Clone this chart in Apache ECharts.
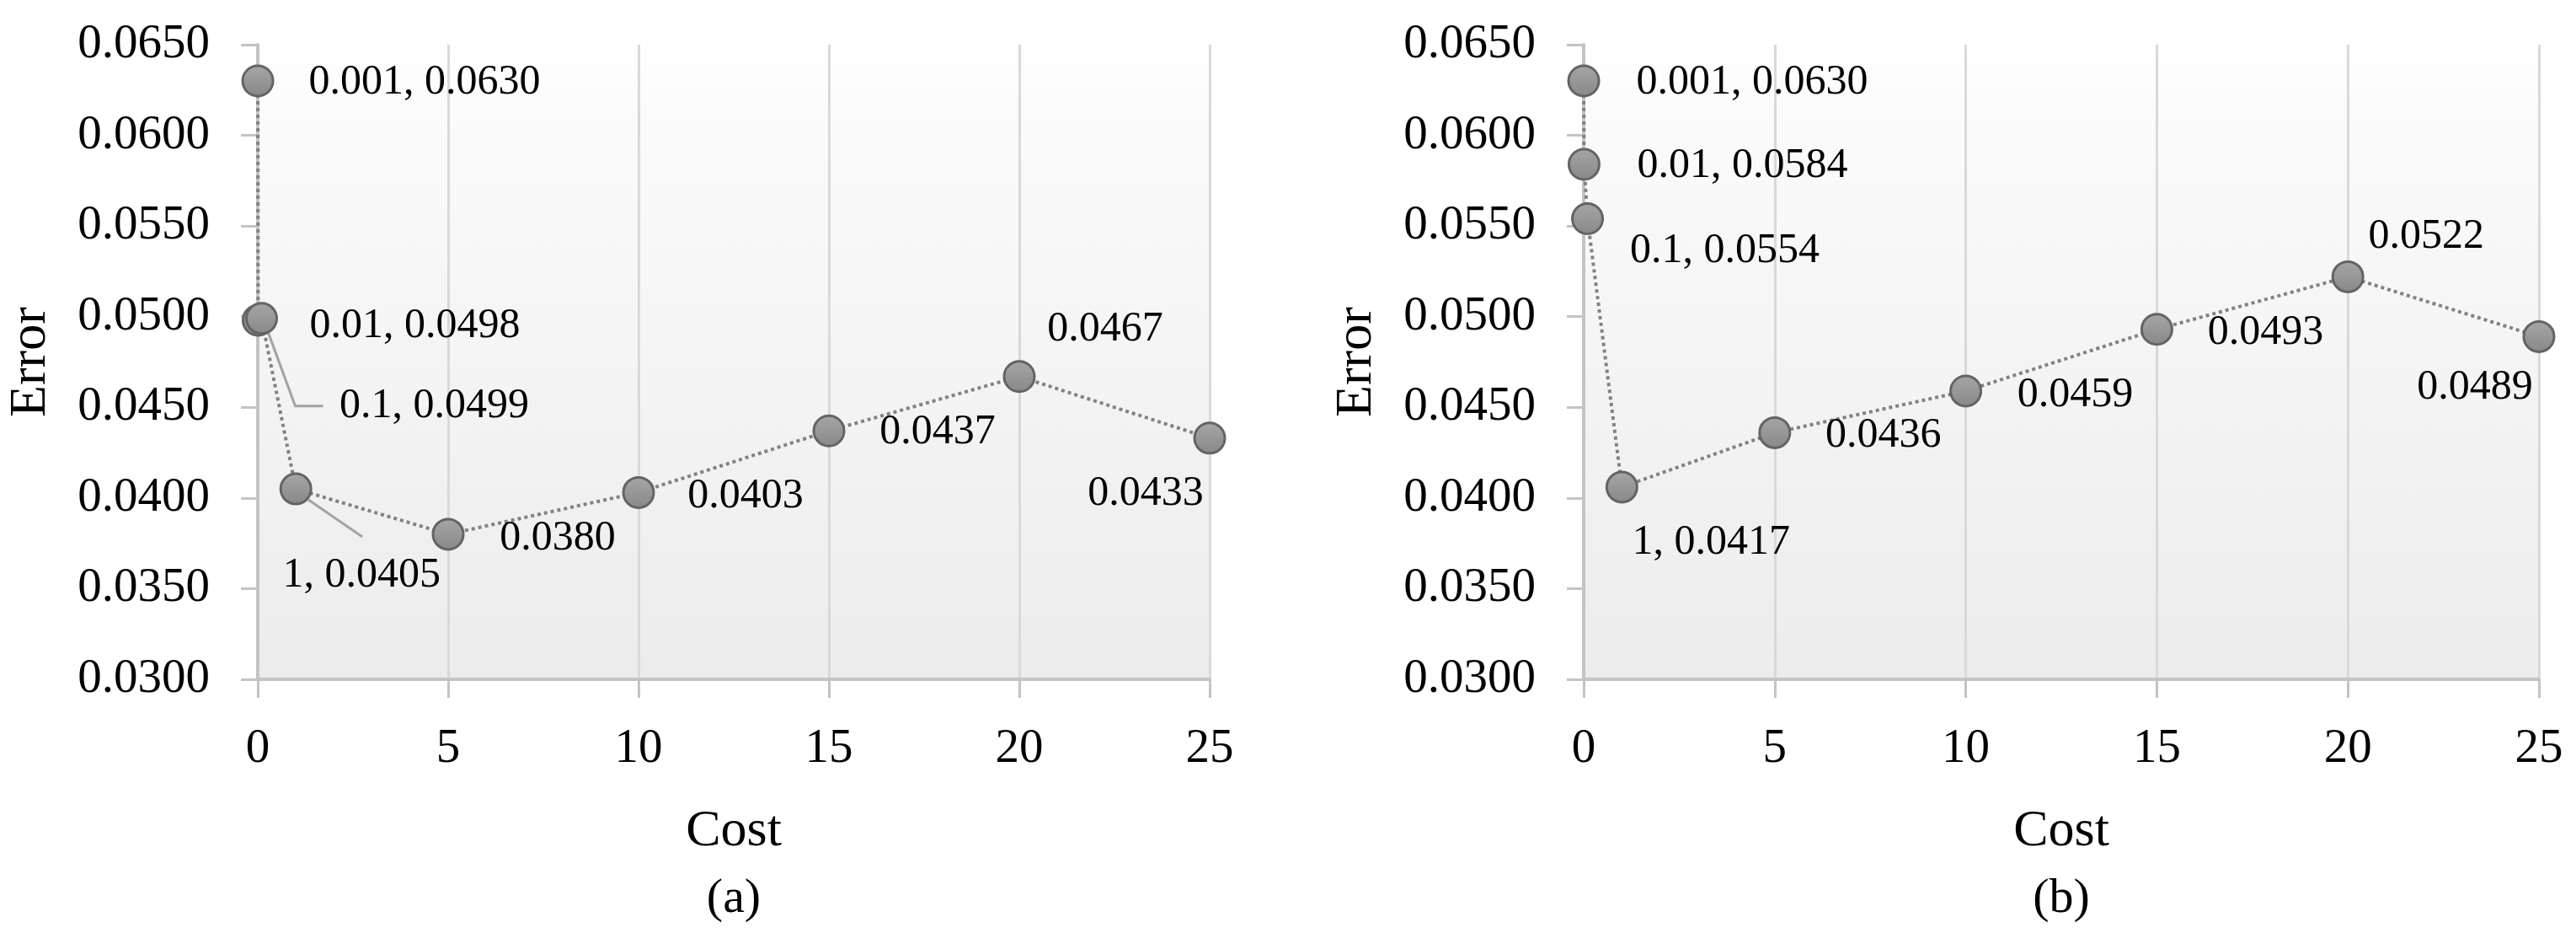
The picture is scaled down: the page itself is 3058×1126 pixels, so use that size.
<!DOCTYPE html>
<html>
<head>
<meta charset="utf-8">
<script src="https://cdn.jsdelivr.net/npm/echarts@6/dist/echarts.min.js"></script>
<style>
html,body{margin:0;padding:0;background:#fff;}
#main{width:3058px;height:1126px;}
</style>
</head>
<body>
<div id="main"></div>
<script>
// data
var costA=[0.001,0.01,0.1,1,5,10,15,20,25];
var errA=[0.0630,0.0498,0.0499,0.0405,0.0380,0.0403,0.0437,0.0467,0.0433];
var textA=['0.001, 0.0630','0.01, 0.0498','0.1, 0.0499','1, 0.0405','0.0380','0.0403','0.0437','0.0467','0.0433'];

var costB=[0.001,0.01,0.1,1,5,10,15,20,25];
var errB=[0.0630,0.0584,0.0554,0.0406,0.0436,0.0459,0.0493,0.0522,0.0489];
var textB=['0.001, 0.0630','0.01, 0.0584','0.1, 0.0554','1, 0.0417','0.0436','0.0459','0.0493','0.0522','0.0489'];

var xMin=0, xMax=25, xStep=5;
var yMin=0.0300, yMax=0.0650, yStep=0.0050;
var panelNames=['(a)','(b)'];

// label placement (label centre relative to point, px)
var offA=[[198,2],[186,7],[205,104],[78,103],[130,5],[127,4],[129,2],[102,-56],[-76,66]];
var offB=[[200,2],[188,2],[163,38],[106,66],[129,3],[130,5],[129,4],[93,-48],[-76,60]];
// callout lines of panel (a): point index -> polyline relative to the point
var guideA={2:[[8,17],[40,104],[73,104]],3:[[15,13],[79,57]]};

var FONT='Liberation Serif';
var myChart=echarts.init(document.getElementById('main'));

function buildData(cost,err,txt){
	var out=[];
	for(var i=0;i<cost.length;i++){
		out.push({value:[cost[i],err[i]],label:{formatter:txt[i]}});
	}
	return out;
}

function xAxisOf(idx){
	return {
		type:'value',gridIndex:idx,min:xMin,max:xMax,interval:xStep,
		name:'Cost',nameLocation:'middle',nameGap:150,
		nameTextStyle:{fontFamily:FONT,fontSize:62,color:'#000'},
		axisLine:{show:true,onZero:false,lineStyle:{color:'#c4c4c4',width:4}},
		axisTick:{show:true,length:22,lineStyle:{color:'#c4c4c4',width:3}},
		axisLabel:{margin:55,fontFamily:FONT,fontSize:57,color:'#000'},
		splitLine:{show:true,lineStyle:{color:'#d9d9d9',width:3}}
	};
}
function yAxisOf(idx){
	return {
		type:'value',gridIndex:idx,min:yMin,max:yMax,interval:yStep,
		name:'Error',nameLocation:'middle',nameGap:238,
		nameTextStyle:{fontFamily:FONT,fontSize:62,color:'#000'},
		axisLine:{show:true,onZero:false,lineStyle:{color:'#c4c4c4',width:4}},
		axisTick:{show:true,length:20,lineStyle:{color:'#c4c4c4',width:3}},
		axisLabel:{margin:57,fontFamily:FONT,fontSize:57,color:'#000',
			formatter:function(v){return v.toFixed(4);}},
		splitLine:{show:false}
	};
}
function seriesOf(idx,data,off){
	return {
		type:'line',xAxisIndex:idx,yAxisIndex:idx,data:data,
		symbol:'circle',symbolSize:36,showSymbol:true,
		lineStyle:{color:'#828282',width:4,type:'dotted'},
		itemStyle:{
			color:new echarts.graphic.LinearGradient(0,0,0,1,[{offset:0,color:'#a6a6a6'},{offset:1,color:'#888888'}]),
			borderColor:'#646464',borderWidth:3
		},
		label:{show:true,position:'inside',align:'center',verticalAlign:'middle',
			fontFamily:FONT,fontSize:50,color:'#000'},
		labelLayout:function(p){
			var o=off[p.dataIndex];
			return {dx:o[0],dy:o[1]};
		},
		emphasis:{disabled:true},
		z:3
	};
}

var bg=new echarts.graphic.LinearGradient(0,0,0,1,[{offset:0,color:'#ffffff'},{offset:0.1,color:'#fbfbfb'},{offset:1,color:'#ececec'}]);

var option={
	animation:false,
	backgroundColor:'#fff',
	grid:[
		{left:306,right:1622,top:53,bottom:320,show:true,borderWidth:0,backgroundColor:bg},
		{left:1880,right:44,top:53,bottom:320,show:true,borderWidth:0,backgroundColor:bg}
	],
	xAxis:[xAxisOf(0),xAxisOf(1)],
	yAxis:[yAxisOf(0),yAxisOf(1)],
	series:[
		seriesOf(0,buildData(costA,errA,textA),offA),
		seriesOf(1,buildData(costB,errB,textB),offB)
	]
};
myChart.setOption(option);

// panel captions and callout lines (anchored on the plotted points)
var gr=[
	{type:'text',x:871,y:1067,style:{text:panelNames[0],font:'58px "Liberation Serif"',fill:'#000',align:'center',verticalAlign:'middle'}},
	{type:'text',x:2447,y:1067,style:{text:panelNames[1],font:'58px "Liberation Serif"',fill:'#000',align:'center',verticalAlign:'middle'}}
];
for(var k in guideA){
	var p=myChart.convertToPixel({gridIndex:0},[costA[k],errA[k]]);
	var pts=guideA[k].map(function(d){return [p[0]+d[0],p[1]+d[1]];});
	gr.push({type:'polyline',z:2,shape:{points:pts},style:{stroke:'#a3a3a3',lineWidth:3,fill:null}});
}
myChart.setOption({graphic:gr});
</script>
</body>
</html>
